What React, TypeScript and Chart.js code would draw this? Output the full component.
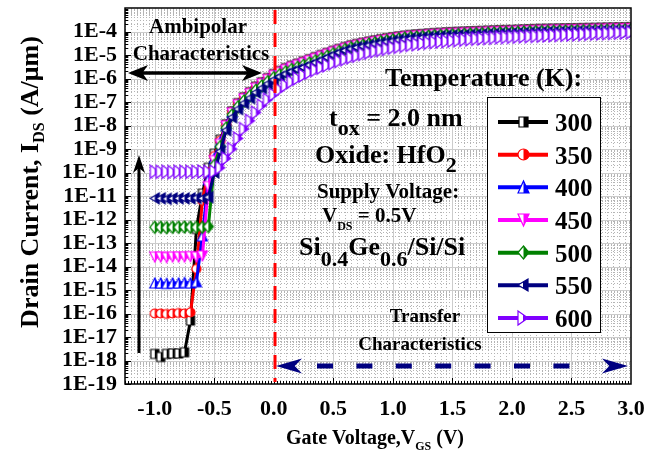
import React, { useEffect, useRef } from "react";
import { Chart, registerables } from "chart.js";

Chart.register(...registerables);

// ---------------- data ----------------
const gateVoltage = [
  -1.0, -0.95, -0.9, -0.85, -0.8, -0.75, -0.7, -0.65, -0.6, -0.55,
  -0.5, -0.45, -0.4, -0.35, -0.3, -0.25, -0.2, -0.15, -0.1, -0.05,
  0.0, 0.05, 0.1, 0.15, 0.2, 0.25, 0.3, 0.35, 0.4, 0.45,
  0.5, 0.55, 0.6, 0.65, 0.7, 0.75, 0.8, 0.85, 0.9, 0.95,
  1.0, 1.05, 1.1, 1.15, 1.2, 1.25, 1.3, 1.35, 1.4, 1.45,
  1.5, 1.55, 1.6, 1.65, 1.7, 1.75, 1.8, 1.85, 1.9, 1.95,
  2.0, 2.05, 2.1, 2.15, 2.2, 2.25, 2.3, 2.35, 2.4, 2.45,
  2.5, 2.55, 2.6, 2.65, 2.7, 2.75, 2.8, 2.85, 2.9, 2.95,
  3.0,
];

// log10 of drain current (A/um)
const logId300K = [
  -17.72, -17.85, -17.72, -17.7, -17.7, -17.65, -16.3, -12.4, -10.9, -9.8,
  -9.2, -8.6, -7.95, -7.4, -7.05, -6.8, -6.58, -6.35, -6.16, -5.98,
  -5.81, -5.68, -5.56, -5.46, -5.37, -5.28, -5.18, -5.09, -5.0, -4.91,
  -4.82, -4.74, -4.66, -4.59, -4.53, -4.48, -4.43, -4.38, -4.33, -4.29,
  -4.25, -4.21, -4.18, -4.15, -4.13, -4.11, -4.09, -4.07, -4.06, -4.04,
  -4.03, -4.02, -4.01, -4.0, -3.99, -3.98, -3.97, -3.96, -3.95, -3.945,
  -3.94, -3.93, -3.92, -3.91, -3.9, -3.895, -3.89, -3.885, -3.88, -3.875,
  -3.87, -3.865, -3.86, -3.855, -3.85, -3.845, -3.84, -3.835, -3.83, -3.825,
  -3.82,
];
const logId350K = [
  -16.0, -16.0, -16.02, -16.0, -15.98, -16.0, -15.95, -14.1, -11.2, -10.0,
  -9.3, -8.65, -7.97, -7.42, -7.07, -6.82, -6.6, -6.37, -6.18, -6.0,
  -5.83, -5.7, -5.58, -5.48, -5.39, -5.3, -5.2, -5.11, -5.02, -4.93,
  -4.84, -4.76, -4.68, -4.61, -4.55, -4.5, -4.45, -4.4, -4.35, -4.31,
  -4.27, -4.23, -4.2, -4.17, -4.15, -4.13, -4.11, -4.09, -4.08, -4.06,
  -4.05, -4.04, -4.03, -4.02, -4.01, -4.0, -3.99, -3.98, -3.97, -3.965,
  -3.96, -3.95, -3.94, -3.93, -3.92, -3.915, -3.91, -3.905, -3.9, -3.895,
  -3.89, -3.885, -3.88, -3.875, -3.87, -3.865, -3.86, -3.855, -3.85, -3.845,
  -3.84,
];
const logId400K = [
  -14.7, -14.7, -14.72, -14.7, -14.7, -14.68, -14.7, -14.65, -12.7, -10.3,
  -9.4, -8.7, -7.99, -7.44, -7.09, -6.84, -6.62, -6.39, -6.2, -6.02,
  -5.85, -5.72, -5.6, -5.5, -5.41, -5.32, -5.22, -5.13, -5.04, -4.95,
  -4.86, -4.78, -4.7, -4.63, -4.57, -4.52, -4.47, -4.42, -4.37, -4.33,
  -4.29, -4.25, -4.22, -4.19, -4.17, -4.15, -4.13, -4.11, -4.1, -4.08,
  -4.07, -4.06, -4.05, -4.04, -4.03, -4.02, -4.01, -4.0, -3.99, -3.985,
  -3.98, -3.97, -3.96, -3.95, -3.94, -3.935, -3.93, -3.925, -3.92, -3.915,
  -3.91, -3.905, -3.9, -3.895, -3.89, -3.885, -3.88, -3.875, -3.87, -3.865,
  -3.86,
];
const logId450K = [
  -13.6, -13.6, -13.62, -13.6, -13.6, -13.6, -13.58, -13.6, -13.55, -10.6,
  -9.5, -8.8, -8.02, -7.47, -7.12, -6.87, -6.65, -6.42, -6.23, -6.05,
  -5.88, -5.75, -5.63, -5.53, -5.44, -5.35, -5.25, -5.16, -5.07, -4.98,
  -4.89, -4.81, -4.73, -4.66, -4.6, -4.55, -4.5, -4.45, -4.4, -4.36,
  -4.32, -4.28, -4.25, -4.22, -4.2, -4.18, -4.16, -4.14, -4.13, -4.11,
  -4.1, -4.09, -4.08, -4.07, -4.06, -4.05, -4.04, -4.03, -4.02, -4.015,
  -4.01, -4.0, -3.99, -3.98, -3.97, -3.965, -3.96, -3.955, -3.95, -3.945,
  -3.94, -3.935, -3.93, -3.925, -3.92, -3.915, -3.91, -3.905, -3.9, -3.895,
  -3.89,
];
const logId500K = [
  -12.33, -12.33, -12.35, -12.33, -12.33, -12.32, -12.33, -12.33, -12.33, -12.3,
  -9.7, -8.9, -8.1, -7.55, -7.2, -6.95, -6.73, -6.5, -6.31, -6.13,
  -5.96, -5.83, -5.71, -5.61, -5.52, -5.43, -5.33, -5.24, -5.14, -5.04,
  -4.94, -4.85, -4.76, -4.69, -4.63, -4.58, -4.53, -4.48, -4.43, -4.39,
  -4.35, -4.31, -4.28, -4.25, -4.23, -4.21, -4.19, -4.17, -4.16, -4.14,
  -4.13, -4.12, -4.11, -4.1, -4.09, -4.08, -4.07, -4.06, -4.05, -4.045,
  -4.04, -4.03, -4.02, -4.01, -4.0, -3.995, -3.99, -3.985, -3.98, -3.975,
  -3.97, -3.965, -3.96, -3.955, -3.95, -3.945, -3.94, -3.935, -3.93, -3.925,
  -3.92,
];
const logId550K = [
  -11.1, -11.1, -11.12, -11.1, -11.1, -11.1, -11.1, -11.08, -11.1, -11.05,
  -10.0, -9.1, -8.2, -7.65, -7.3, -7.05, -6.83, -6.6, -6.41, -6.23,
  -6.06, -5.93, -5.81, -5.71, -5.62, -5.53, -5.43, -5.33, -5.22, -5.11,
  -5.0, -4.9, -4.81, -4.74, -4.68, -4.63, -4.58, -4.53, -4.48, -4.44,
  -4.4, -4.36, -4.33, -4.3, -4.28, -4.26, -4.24, -4.22, -4.21, -4.19,
  -4.18, -4.17, -4.16, -4.15, -4.14, -4.13, -4.12, -4.11, -4.1, -4.095,
  -4.09, -4.08, -4.07, -4.06, -4.05, -4.045, -4.04, -4.035, -4.03, -4.025,
  -4.02, -4.015, -4.01, -4.005, -4.0, -3.995, -3.99, -3.985, -3.98, -3.975,
  -3.97,
];
const logId600K = [
  -9.97, -9.97, -9.97, -9.98, -9.97, -9.97, -9.97, -9.97, -9.96, -9.97,
  -9.95, -9.8, -9.4, -9.0, -8.55, -8.15, -7.8, -7.45, -7.15, -6.9,
  -6.68, -6.48, -6.3, -6.14, -6.0, -5.87, -5.75, -5.64, -5.54, -5.44,
  -5.35, -5.26, -5.18, -5.1, -5.03, -4.96, -4.9, -4.84, -4.79, -4.74,
  -4.69, -4.65, -4.61, -4.57, -4.54, -4.51, -4.48, -4.45, -4.43, -4.41,
  -4.39, -4.37, -4.35, -4.33, -4.31, -4.3, -4.28, -4.27, -4.25, -4.24,
  -4.23, -4.22, -4.21, -4.2, -4.19, -4.18, -4.17, -4.16, -4.15, -4.14,
  -4.13, -4.12, -4.11, -4.1, -4.09, -4.08, -4.07, -4.06, -4.05, -4.04,
  -4.03,
];

const seriesLogCurrent = [logId300K, logId350K, logId400K, logId450K, logId500K, logId550K, logId600K];
const temperatureLabels = ["300", "350", "400", "450", "500", "550", "600"];
const seriesColors = ["#000000", "#FF0000", "#0000FF", "#FF00FF", "#008000", "#000080", "#8000FF"];
const markerShapes = ["square", "circle", "up", "down", "diamond", "left", "right"];
const xTickValues = [-1.0, -0.5, 0.0, 0.5, 1.0, 1.5, 2.0, 2.5, 3.0];
const yTickExponents = [-19, -18, -17, -16, -15, -14, -13, -12, -11, -10, -9, -8, -7, -6, -5, -4];

// ---------------- styling helpers ----------------
const FONT = '"Liberation Serif", "Times New Roman", serif';
const plotMarkerSize: [number, number][] = [[8, 9], [9, 9], [10, 10], [10, 10], [10, 12], [9, 11], [9, 13]];
const legendMarkerSize: [number, number][] = [[9, 10], [11, 11], [11, 12], [11, 12], [11, 13], [10, 12], [10, 14]];

function makeMarker(shape: string, color: string, w: number, h: number): HTMLCanvasElement {
  const pad = 2;
  const c = document.createElement("canvas");
  c.width = w + pad * 2;
  c.height = h + pad * 2;
  const g = c.getContext("2d")!;
  g.translate(pad, pad);
  const p = new Path2D();
  if (shape === "square") p.rect(0, 0, w, h);
  else if (shape === "circle") p.arc(w / 2, h / 2, w / 2, 0, Math.PI * 2);
  else if (shape === "up") { p.moveTo(0, h); p.lineTo(w / 2, 0); p.lineTo(w, h); p.closePath(); }
  else if (shape === "down") { p.moveTo(0, 0); p.lineTo(w, 0); p.lineTo(w / 2, h); p.closePath(); }
  else if (shape === "diamond") { p.moveTo(w / 2, 0); p.lineTo(w, h / 2); p.lineTo(w / 2, h); p.lineTo(0, h / 2); p.closePath(); }
  else if (shape === "left") { p.moveTo(0, h / 2); p.lineTo(w, 0); p.lineTo(w, h); p.closePath(); }
  else { p.moveTo(0, 0); p.lineTo(w, h / 2); p.lineTo(0, h); p.closePath(); }
  g.fillStyle = "#FFFFFF";
  g.fill(p);
  g.save();
  g.beginPath();
  g.rect(w / 2, -pad, w / 2 + pad, h + pad * 2);
  g.clip();
  g.fillStyle = color;
  g.fill(p);
  g.restore();
  g.lineWidth = 1.2;
  g.strokeStyle = color;
  g.stroke(p);
  return c;
}

type Run = [string, number, number];
function runsWidth(ctx: CanvasRenderingContext2D, runs: Run[]) {
  let w = 0;
  for (const [t, s] of runs) {
    ctx.font = `bold ${s}px ${FONT}`;
    w += ctx.measureText(t).width;
  }
  return w;
}
function drawRuns(ctx: CanvasRenderingContext2D, x: number, y: number, runs: Run[]) {
  ctx.textAlign = "left";
  ctx.textBaseline = "alphabetic";
  let cx = x;
  for (const [t, s, dy] of runs) {
    ctx.font = `bold ${s}px ${FONT}`;
    ctx.fillText(t, cx, y + dy);
    cx += ctx.measureText(t).width;
  }
}
function arrowHead(ctx: CanvasRenderingContext2D, tx: number, ty: number, dx: number, dy: number, len: number, half: number) {
  const bx = tx - dx * len, by = ty - dy * len;
  const nx = -dy, ny = dx;
  const mx = tx - dx * len * 0.72, my = ty - dy * len * 0.72;
  ctx.beginPath();
  ctx.moveTo(tx, ty);
  ctx.lineTo(bx + nx * half, by + ny * half);
  ctx.lineTo(mx, my);
  ctx.lineTo(bx - nx * half, by - ny * half);
  ctx.closePath();
  ctx.fill();
}
function seg(ctx: CanvasRenderingContext2D, x1: number, y1: number, x2: number, y2: number) {
  ctx.beginPath();
  ctx.moveTo(x1, y1);
  ctx.lineTo(x2, y2);
  ctx.stroke();
}

function makeDecorPlugin(legendMarkers: HTMLCanvasElement[]) {
  return {
    id: "decor",
    beforeDatasetsDraw(chart: any) {
      const { ctx, chartArea: a, scales } = chart;
      const x = scales.x, y = scales.y;
      ctx.save();
      ctx.beginPath();
      ctx.rect(a.left, a.top, a.right - a.left, a.bottom - a.top);
      ctx.clip();
      ctx.strokeStyle = "#b4b4b4";
      ctx.lineWidth = 1;
      ctx.setLineDash([1, 2]);
      for (let k = -25; k <= 60; k++) {
        if (k % 10 === 0) continue;
        const px = Math.round(x.getPixelForValue(k * 0.05)) + 0.5;
        seg(ctx, px, a.top, px, a.bottom);
      }
      for (let e = -19; e < -3; e++) {
        for (let m = 2; m <= 9; m++) {
          const py = Math.round(y.getPixelForValue(m * Math.pow(10, e))) + 0.5;
          seg(ctx, a.left, py, a.right, py);
        }
      }
      ctx.setLineDash([]);
      ctx.strokeStyle = "#cccccc";
      for (const v of xTickValues) {
        const px = Math.round(x.getPixelForValue(v)) + 0.5;
        seg(ctx, px, a.top, px, a.bottom);
      }
      for (let e = -18; e < -3; e++) {
        const py = Math.round(y.getPixelForValue(Math.pow(10, e))) + 0.5;
        seg(ctx, a.left, py, a.right, py);
      }
      ctx.restore();
    },
    afterDatasetsDraw(chart: any) {
      const { ctx, chartArea: a, scales } = chart;
      const x = scales.x, y = scales.y;
      ctx.save();
      ctx.strokeStyle = "#000";
      ctx.lineWidth = 1;
      for (let k = -50; k <= 120; k++) {
        const px = Math.round(x.getPixelForValue(k * 0.025)) + 0.5;
        if (px < a.left || px > a.right) continue;
        const len = k % 20 === 0 ? 6 : 3;
        seg(ctx, px, a.bottom, px, a.bottom - len);
      }
      for (let e = -19; e < -3; e++) {
        for (let m = 1; m <= 9; m++) {
          const py = Math.round(y.getPixelForValue(m * Math.pow(10, e))) + 0.5;
          const len = m === 1 ? 6 : 3;
          seg(ctx, a.left, py, a.left + len, py);
        }
      }
      ctx.lineWidth = 1.5;
      ctx.strokeRect(a.left, a.top, a.right - a.left, a.bottom - a.top);

      // red dashed vertical line
      const rx = x.getPixelForValue(0.01);
      ctx.strokeStyle = "#FF0000";
      ctx.lineWidth = 3;
      ctx.setLineDash([14, 9]);
      seg(ctx, rx, a.top + 2, rx, a.bottom - 2);
      ctx.setLineDash([]);

      // ambipolar double arrow
      ctx.strokeStyle = "#000";
      ctx.fillStyle = "#000";
      ctx.lineWidth = 3.3;
      seg(ctx, 140, 73, 250, 73);
      arrowHead(ctx, 128, 73, -1, 0, 20, 8);
      arrowHead(ctx, 262, 73, 1, 0, 20, 8);

      // vertical arrow
      ctx.lineWidth = 3;
      seg(ctx, 139, 353, 139, 168);
      arrowHead(ctx, 139, 155, 0, -1, 18, 6);

      // transfer dashed double arrow
      ctx.strokeStyle = "#000080";
      ctx.fillStyle = "#000080";
      ctx.lineWidth = 5;
      for (let k = 0; k < 7; k++) {
        const sx = 317 + k * 39.4;
        seg(ctx, sx, 366, sx + 16, 366);
      }
      arrowHead(ctx, 276, 366, -1, 0, 26, 7.5);
      arrowHead(ctx, 628, 366, 1, 0, 26, 7.5);

      // texts
      ctx.fillStyle = "#000";
      ctx.textAlign = "center";
      ctx.textBaseline = "alphabetic";
      ctx.font = `bold 21px ${FONT}`;
      ctx.fillText("Ambipolar", 198, 33);
      ctx.fillText("Characteristics", 201, 60);
      ctx.font = `bold 19px ${FONT}`;
      ctx.fillText("Transfer", 425, 322);
      ctx.fillText("Characteristics", 420, 350);

      drawRuns(ctx, 385, 86, [["Temperature (K):", 26, 0]]);
      drawRuns(ctx, 329, 126, [["t", 26, 0], ["ox", 22, 9], [" = 2.0 nm", 26, 0]]);
      drawRuns(ctx, 315, 163, [["Oxide: HfO", 26, 0], ["2", 22, 9]]);
      drawRuns(ctx, 317, 198, [["Supply Voltage:", 21, 0]]);
      drawRuns(ctx, 322, 222, [["V", 21, 0], ["DS", 12, 8], [" = 0.5V", 21, 0]]);
      drawRuns(ctx, 299, 255, [["Si", 26, 0], ["0.4", 22, 11], ["Ge", 26, 0], ["0.6", 22, 11], ["/Si/Si", 26, 0]]);

      // legend
      ctx.fillStyle = "#FFFFFF";
      ctx.fillRect(487, 97, 113, 235);
      ctx.strokeStyle = "#000";
      ctx.lineWidth = 1;
      ctx.strokeRect(487.5, 97.5, 113, 235);
      for (let i = 0; i < temperatureLabels.length; i++) {
        const ly = 122 + i * 32.67;
        ctx.strokeStyle = seriesColors[i];
        ctx.lineWidth = 4;
        seg(ctx, 498, ly, 548, ly);
        const m = legendMarkers[i];
        ctx.drawImage(m, Math.round(523 - m.width / 2), Math.round(ly - m.height / 2));
        ctx.fillStyle = "#000";
        drawRuns(ctx, 555, ly + 9, [[temperatureLabels[i], 25, 0]]);
      }
      ctx.restore();
    },
    afterDraw(chart: any) {
      const { ctx } = chart;
      ctx.save();
      ctx.fillStyle = "#000";
      const xr: Run[] = [["Gate Voltage,V", 20, 0], ["GS", 12, 6], [" (V)", 20, 0]];
      const xw = runsWidth(ctx, xr);
      drawRuns(ctx, 375 - xw / 2, 444, xr);
      ctx.translate(38, 182);
      ctx.rotate(-Math.PI / 2);
      const yr: Run[] = [["Drain Current, I", 26, 0], ["DS", 16, 6], [" (A/\u03bcm)", 26, 0]];
      const yw = runsWidth(ctx, yr);
      drawRuns(ctx, -yw / 2, 0, yr);
      ctx.restore();
    },
  };
}

export default function App() {
  const ref = useRef<HTMLCanvasElement>(null);
  useEffect(() => {
    const canvas = ref.current!;
    const plotMarkers = markerShapes.map((s, i) => makeMarker(s, seriesColors[i], plotMarkerSize[i][0], plotMarkerSize[i][1]));
    const legendMarkers = markerShapes.map((s, i) => makeMarker(s, seriesColors[i], legendMarkerSize[i][0], legendMarkerSize[i][1]));
    const datasets = seriesLogCurrent.map((arr, i) => ({
      label: temperatureLabels[i] + " K",
      data: arr.map((lg, j) => ({ x: gateVoltage[j], y: Math.pow(10, lg) })),
      borderColor: seriesColors[i],
      backgroundColor: seriesColors[i],
      borderWidth: 3,
      pointStyle: plotMarkers[i] as any,
      pointRadius: 5,
      order: 6 - i,
      tension: 0,
    }));
    const chart: any = new Chart(canvas, {
      type: "line",
      data: { datasets } as any,
      options: {
        animation: false,
        responsive: false,
        layout: { padding: { top: 8, right: 25, left: 0, bottom: 0 } },
        plugins: { legend: { display: false }, tooltip: { enabled: false } },
        scales: {
          x: {
            type: "linear",
            min: -1.25,
            max: 3.0,
            afterBuildTicks: (s: any) => { s.ticks = xTickValues.map((v) => ({ value: v })); },
            afterFit: (s: any) => { s.height = 68; s.paddingLeft = 0; s.paddingRight = 0; },
            grid: { display: false, drawTicks: false },
            border: { display: false },
            ticks: {
              color: "#000",
              font: { family: FONT, size: 22, weight: "bold" },
              padding: 12,
              maxRotation: 0,
              autoSkip: false,
              callback: (v: any) => Number(v).toFixed(1),
            },
          },
          y: {
            type: "logarithmic",
            min: 1e-19,
            max: 1e-3,
            afterBuildTicks: (s: any) => { s.ticks = yTickExponents.map((e) => ({ value: Math.pow(10, e) })); },
            afterFit: (s: any) => { s.width = 125; s.paddingTop = 0; s.paddingBottom = 0; },
            grid: { display: false, drawTicks: false },
            border: { display: false },
            ticks: {
              color: "#000",
              font: { family: FONT, size: 22, weight: "bold" },
              padding: 8,
              autoSkip: false,
              callback: (v: any) => "1E" + Math.round(Math.log10(Number(v))),
            },
          },
        },
      } as any,
      plugins: [makeDecorPlugin(legendMarkers)],
    });
    return () => chart.destroy();
  }, []);
  return (
    <div style={{ position: "fixed", left: 0, top: 0, width: 656, height: 452, background: "#fff" }}>
      <canvas ref={ref} width={656} height={452} style={{ display: "block" }} />
    </div>
  );
}
